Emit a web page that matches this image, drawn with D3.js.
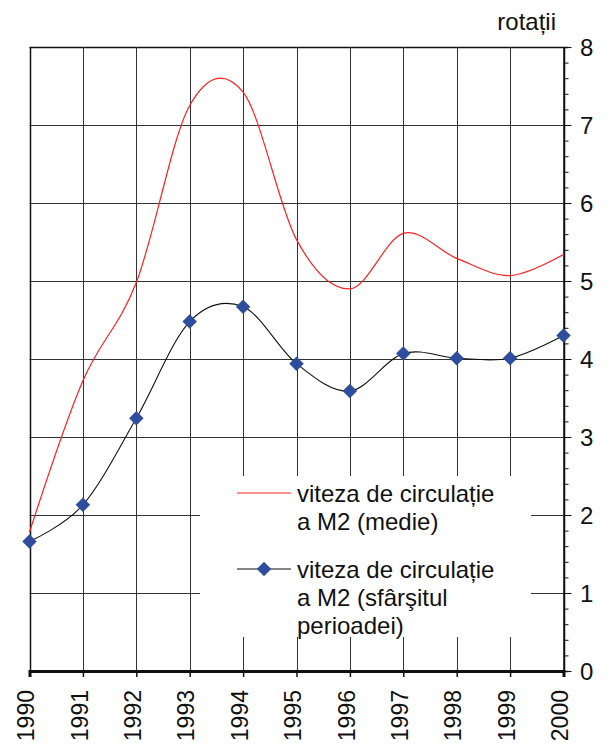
<!DOCTYPE html>
<html>
<head>
<meta charset="utf-8">
<script src="https://cdn.jsdelivr.net/npm/d3@7"></script>
<style>
  html, body { margin: 0; padding: 0; background: #fff; }
  svg { display: block; font-family: "Liberation Sans", Arial, sans-serif; }
</style>
</head>
<body>
<svg id="chart" width="611" height="744"></svg>
<script>
const years = [1990, 1991, 1992, 1993, 1994, 1995, 1996, 1997, 1998, 1999, 2000];
const vitezaMedie = [1.78, 3.72, 4.98, 7.25, 7.42, 5.53, 4.90, 5.61, 5.29, 5.07, 5.34];
const vitezaSfarsit = [1.66, 2.13, 3.24, 4.48, 4.67, 3.94, 3.59, 4.07, 4.01, 4.01, 4.30];
const yTicks = [0, 1, 2, 3, 4, 5, 6, 7, 8];
const unitLabel = "rotații";
const legendMedie = ["viteza de circulație", "a M2 (medie)"];
const legendSfarsit = ["viteza de circulație", "a M2 (sfârşitul", "perioadei)"];

const svg = d3.select("#chart");
const plotLeft = 29.5, plotRight = 563.5, plotTop = 47, plotBottom = 671;

const x = d3.scaleLinear().domain([1990, 2000]).range([plotLeft, plotRight]);
const y = d3.scaleLinear().domain([0, 8]).range([plotBottom, plotTop]);

const gridColor = "#333";

// horizontal gridlines
svg.append("g").selectAll("line").data(yTicks.filter(v => v > 0)).join("line")
  .attr("x1", plotLeft).attr("x2", plotRight)
  .attr("y1", d => Math.round(y(d)) + 0.5).attr("y2", d => Math.round(y(d)) + 0.5)
  .attr("stroke", d => d === 8 ? "#111" : gridColor).attr("stroke-width", d => d === 8 ? 1.5 : 1);

// vertical gridlines
svg.append("g").selectAll("line").data(years).join("line")
  .attr("x1", d => Math.round(x(d)) + 0.5).attr("x2", d => Math.round(x(d)) + 0.5)
  .attr("y1", plotTop).attr("y2", plotBottom)
  .attr("stroke", d => (d === 1990 || d === 2000) ? "#111" : gridColor)
  .attr("stroke-width", d => (d === 1990 || d === 2000) ? 1.5 : 1);

// legend background (white box hides grid)
const legend = svg.append("g");
legend.append("rect").attr("x", 200).attr("y", 476).attr("width", 331).attr("height", 161).attr("fill", "#fff");

// right axis
const yAxis = d3.axisRight(y).tickValues(d3.range(0, 8.01, 0.2)).tickSize(5).tickFormat("");
const gy = svg.append("g").attr("transform", `translate(${plotRight},0)`).call(yAxis);
gy.select(".domain").attr("stroke", "#111").attr("stroke-width", 1.5);
gy.selectAll(".tick line").attr("stroke", "#111")
  .attr("x2", (d) => Math.abs(d - Math.round(d)) < 1e-6 ? 8 : 5);
svg.append("g").selectAll("text").data(yTicks).join("text")
  .attr("x", 580).attr("y", d => y(d)).attr("dy", "0.36em")
  .attr("font-size", 24).attr("fill", "#111").text(d => d);

// bottom axis
const xAxis = d3.axisBottom(x).tickValues(years).tickSize(6).tickFormat("");
const gx = svg.append("g").attr("transform", `translate(0,${plotBottom})`).call(xAxis);
gx.select(".domain").attr("stroke", "#111").attr("stroke-width", 3);
gx.selectAll(".tick line").attr("stroke", "#111").attr("stroke-width", 1.5);
svg.append("g").selectAll("text").data(years).join("text")
  .attr("transform", d => `translate(${x(d)},690) rotate(-90)`)
  .attr("text-anchor", "end").attr("dy", "0.2em")
  .attr("font-size", 23).attr("fill", "#111").text(d => d);

// unit label
svg.append("text").attr("x", 556).attr("y", 30).attr("text-anchor", "end")
  .attr("font-size", 24).attr("fill", "#111").text(unitLabel);

// lines
const line = d3.line().x((d, i) => x(years[i])).y(d => y(d)).curve(d3.curveCardinal.tension(0));
svg.append("path").datum(vitezaMedie).attr("d", line)
  .attr("fill", "none").attr("stroke", "#ff2020").attr("stroke-width", 1.2);
svg.append("path").datum(vitezaSfarsit).attr("d", line)
  .attr("fill", "none").attr("stroke", "#111").attr("stroke-width", 1.1);

const diamond = d3.symbol(d3.symbolSquare, 105);
svg.append("g").selectAll("path").data(vitezaSfarsit).join("path")
  .attr("d", diamond)
  .attr("transform", (d, i) => `translate(${x(years[i])},${y(d)}) rotate(45)`)
  .attr("fill", "#2f4d9e");

// legend content
legend.append("line").attr("x1", 237).attr("x2", 291).attr("y1", 493).attr("y2", 493)
  .attr("stroke", "#ff2020").attr("stroke-width", 1.2);
legend.append("line").attr("x1", 237).attr("x2", 291).attr("y1", 569).attr("y2", 569)
  .attr("stroke", "#111").attr("stroke-width", 1.1);
legend.append("path").attr("d", diamond).attr("transform", "translate(264,569) rotate(45)").attr("fill", "#2f4d9e");

legend.append("g").selectAll("text").data(legendMedie).join("text")
  .attr("x", 297).attr("y", (d, i) => 493 + i * 28.4).attr("dy", "0.36em")
  .attr("font-size", 24).attr("fill", "#111").text(d => d);
legend.append("g").selectAll("text").data(legendSfarsit).join("text")
  .attr("x", 297).attr("y", (d, i) => 569 + i * 28.4).attr("dy", "0.36em")
  .attr("font-size", 24).attr("fill", "#111").text(d => d);
</script>
</body>
</html>
